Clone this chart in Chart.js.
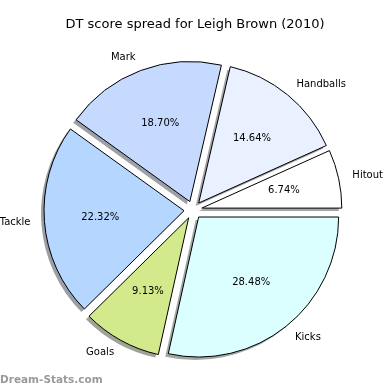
<!DOCTYPE html>
<html>
<head>
<meta charset="utf-8">
<script src="https://cdn.jsdelivr.net/npm/chart.js@4/dist/chart.umd.min.js"></script>
<style>
  html, body { margin: 0; padding: 0; background: #fff; }
  #wrap { width: 390px; height: 390px; }
</style>
</head>
<body>
<div id="wrap"><canvas id="pieChart" width="390" height="390"></canvas></div>
<script>
    // slices in matplotlib order (counter-clockwise from 3 o'clock)
    const categories = ['Hitout', 'Handballs', 'Mark', 'Tackle', 'Goals', 'Kicks'];
    const shares = [6.74, 14.64, 18.70, 22.32, 9.13, 28.48];
    const sliceColours = ['#ffffff', '#e9f0ff', '#c6d9ff', '#b4d6ff', '#d3ea8c', '#dbffff'];

    // chart.js goes clockwise, so flip the order and start at 3 o'clock
    const labelsCw = categories.slice().reverse();
    const valuesCw = shares.slice().reverse();
    const coloursCw = sliceColours.slice().reverse();

    const FONT = '"DejaVu Sans", sans-serif';
    const EXPLODE = 9;   // px each wedge is pushed out
    const SHADOW_DX = -3, SHADOW_DY = 3;

    function hexToShadow(hex) {
        const n = parseInt(hex.slice(1), 16);
        const r = Math.round(((n >> 16) & 255) * 0.3);
        const g = Math.round(((n >> 8) & 255) * 0.3);
        const b = Math.round((n & 255) * 0.3);
        return 'rgba(' + r + ',' + g + ',' + b + ',0.5)';
    }

    // the built-in "offset" also grows small slices, so push the wedges out by hand
    const pieExtras = {
        id: 'pieExtras',
        beforeDatasetsDraw(chart) {
            const ctx = chart.ctx;
            const arcs = chart.getDatasetMeta(0).data;
            arcs.forEach(arc => {
                const mid = (arc.startAngle + arc.endAngle) / 2;
                arc._baseX = arc.x;
                arc._baseY = arc.y;
                arc.x += Math.cos(mid) * EXPLODE;
                arc.y += Math.sin(mid) * EXPLODE;
            });
            ctx.save();
            arcs.forEach((arc, i) => {
                const cx = arc.x + SHADOW_DX;
                const cy = arc.y + SHADOW_DY;
                ctx.beginPath();
                ctx.moveTo(cx, cy);
                ctx.arc(cx, cy, arc.outerRadius, arc.startAngle, arc.endAngle);
                ctx.closePath();
                ctx.fillStyle = hexToShadow(coloursCw[i]);
                ctx.fill();
            });
            ctx.restore();
        },
        afterDatasetsDraw(chart) {
            const ctx = chart.ctx;
            const arcs = chart.getDatasetMeta(0).data;
            ctx.save();
            ctx.fillStyle = '#000';
            ctx.textBaseline = 'middle';
            arcs.forEach((arc, i) => {
                const mid = (arc.startAngle + arc.endAngle) / 2;
                const r = arc.outerRadius;
                ctx.font = '10px ' + FONT;
                ctx.textAlign = 'center';
                ctx.fillText(valuesCw[i].toFixed(2) + '%', arc.x + Math.cos(mid) * r * 0.6, arc.y + Math.sin(mid) * r * 0.6);
                ctx.textAlign = Math.cos(mid) > 0 ? 'left' : 'right';
                ctx.fillText(labelsCw[i], arc.x + Math.cos(mid) * r * 1.1, arc.y + Math.sin(mid) * r * 1.1);
                arc.x = arc._baseX;
                arc.y = arc._baseY;
            });
            // title
            ctx.textAlign = 'center';
            ctx.font = '13px ' + FONT;
            ctx.fillText('DT score spread for Leigh Brown (2010)', 195, 25);
            // watermark
            ctx.textAlign = 'left';
            ctx.font = 'bold 10.5px ' + FONT;
            ctx.fillStyle = '#9a9a9a';
            ctx.fillText('Dream-Stats.com', 0, 380);
            ctx.restore();
        }
    };

    const ctx = document.getElementById('pieChart').getContext('2d');
    const pieChart = new Chart(ctx, {
        type: 'pie',
        data: {
            labels: labelsCw,
            datasets: [{
                data: valuesCw,
                backgroundColor: coloursCw,
                borderColor: '#000',
                borderWidth: 1
            }]
        },
        options: {
            responsive: false,
            animation: false,
            events: [],
            rotation: 90,
            radius: 140,
            layout: { padding: { top: 40, bottom: 10, left: 0, right: 4 } },
            plugins: {
                legend: { display: false },
                tooltip: { enabled: false },
                title: { display: false }
            }
        },
        plugins: [pieExtras]
    });
</script>
</body>
</html>
